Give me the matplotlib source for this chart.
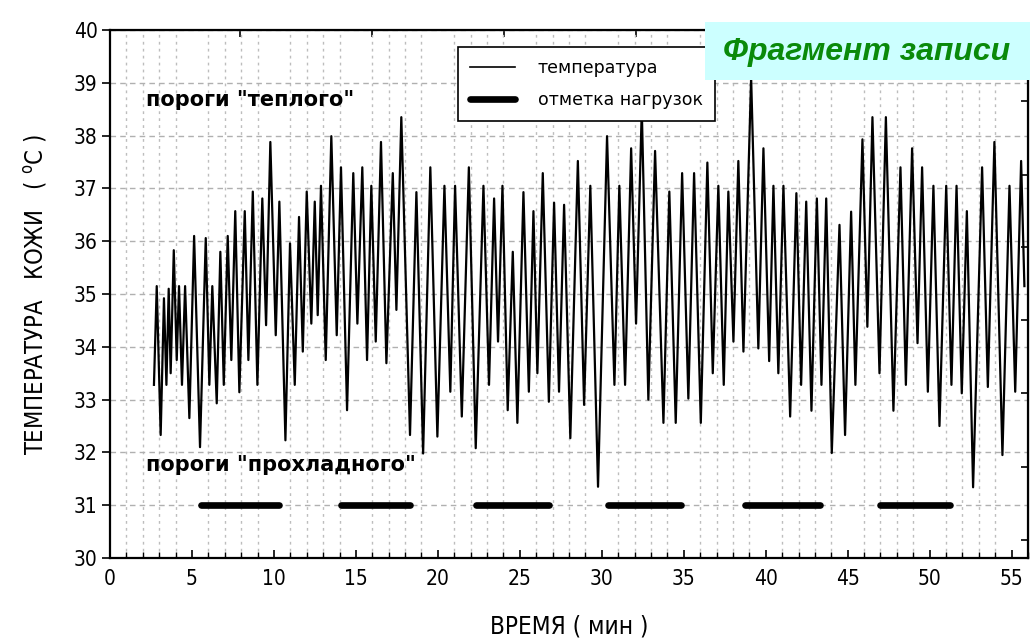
import numpy as np
import matplotlib
matplotlib.use("Agg")
import matplotlib.pyplot as plt
from matplotlib.patches import Rectangle
from matplotlib.lines import Line2D

plt.rcParams['font.family'] = ['Liberation Sans', 'DejaVu Sans']

# skin temperature record, time in minutes
t_min = [2.68, 2.85, 3.09, 3.29, 3.44, 3.58, 3.70, 3.89, 4.07, 4.21,
         4.39, 4.58, 4.84, 5.13, 5.49, 5.84, 6.06, 6.24, 6.51, 6.73,
         6.94, 7.18, 7.40, 7.64, 7.89, 8.22, 8.44, 8.71, 8.99, 9.29,
         9.52, 9.78, 10.11, 10.33, 10.70, 10.98, 11.27, 11.53, 11.76, 12.00,
         12.28, 12.49, 12.67, 12.87, 13.16, 13.50, 13.83, 14.09, 14.46, 14.84,
         15.09, 15.39, 15.68, 15.94, 16.21, 16.53, 16.86, 17.25, 17.47, 17.77,
         18.30, 18.69, 19.10, 19.54, 19.97, 20.40, 20.76, 21.05, 21.46, 21.89,
         22.31, 22.78, 23.12, 23.43, 23.67, 23.94, 24.26, 24.57, 24.85, 25.22,
         25.55, 25.83, 26.07, 26.40, 26.77, 27.09, 27.39, 27.70, 28.08, 28.54,
         28.92, 29.30, 29.77, 30.32, 30.77, 31.07, 31.42, 31.79, 32.09, 32.44,
         32.84, 33.25, 33.76, 34.12, 34.51, 34.90, 35.28, 35.63, 36.04, 36.44,
         36.77, 37.11, 37.44, 37.72, 38.03, 38.33, 38.64, 39.11, 39.55, 39.86,
         40.21, 40.47, 40.77, 41.08, 41.49, 41.87, 42.16, 42.47, 42.79, 43.12,
         43.40, 43.69, 44.03, 44.50, 44.84, 45.21, 45.47, 45.90, 46.20, 46.51,
         46.94, 47.33, 47.79, 48.22, 48.55, 48.93, 49.26, 49.54, 49.89, 50.23,
         50.60, 51.01, 51.33, 51.64, 51.96, 52.27, 52.65, 53.20, 53.55, 53.95,
         54.44, 54.87, 55.22, 55.58, 55.78]
temp_c = [33.28, 35.15, 32.33, 34.92, 33.28, 35.10, 33.50, 35.83, 33.75, 35.15,
          33.28, 35.15, 32.65, 36.10, 32.10, 36.06, 33.28, 35.15, 32.93, 35.80,
          33.28, 36.10, 33.75, 36.57, 33.14, 36.57, 33.75, 36.94, 33.28, 36.81,
          34.41, 37.88, 34.22, 36.75, 32.23, 35.96, 33.28, 36.46, 33.91, 36.94,
          34.44, 36.75, 34.60, 37.05, 33.75, 37.99, 34.22, 37.40, 32.80, 37.29,
          34.44, 37.40, 33.75, 37.05, 34.10, 37.88, 33.69, 37.29, 34.70, 38.35,
          32.33, 36.93, 31.98, 37.40, 32.30, 37.05, 33.15, 37.05, 32.68, 37.40,
          32.08, 37.05, 33.28, 36.81, 34.10, 37.05, 32.80, 35.80, 32.56, 36.93,
          33.15, 36.57, 33.50, 37.29, 32.96, 36.73, 33.15, 36.69, 32.27, 37.52,
          32.90, 37.05, 31.35, 37.99, 33.28, 37.05, 33.28, 37.76, 34.44, 38.50,
          33.00, 37.71, 32.56, 36.94, 32.56, 37.29, 33.02, 37.29, 32.56, 37.49,
          33.50, 37.05, 33.28, 36.94, 34.10, 37.52, 33.91, 39.10, 33.97, 37.76,
          33.73, 37.05, 33.50, 37.05, 32.68, 36.91, 33.28, 36.75, 32.79, 36.81,
          33.28, 36.81, 31.99, 36.31, 32.33, 36.56, 33.28, 37.93, 34.38, 38.35,
          33.50, 38.35, 32.79, 37.40, 33.28, 37.76, 34.07, 37.40, 33.15, 37.05,
          32.50, 37.05, 33.28, 37.05, 33.12, 36.57, 31.34, 37.40, 33.24, 37.88,
          31.95, 37.05, 33.15, 37.52, 35.15]

# load periods (start, end), minutes
load_start = [5.55, 14.11, 22.35, 30.38, 38.72, 47.00]
load_end = [10.31, 18.29, 26.77, 34.84, 43.34, 51.27]
load_level = 31.0

x_ticks = list(range(0, 56, 5))
y_ticks = list(range(30, 41))
top_ticks = [7.93, 15.99, 24.04, 32.09, 40.21, 48.26]
right_ticks = [30.34, 31.73, 33.12, 34.50, 35.90, 37.25, 38.66]

fig = plt.figure(figsize=(10.34, 6.42), dpi=100)
ax = fig.add_axes([0.1064, 0.1308, 0.8878, 0.8224])

ax.plot(t_min, temp_c, color='black', lw=1.6, zorder=3)
for s, e in zip(load_start, load_end):
    ax.plot([s, e], [load_level, load_level], color='black', lw=4.8,
            solid_capstyle='round', zorder=3)

ax.set_xlim(0, 56)
ax.set_ylim(30, 40)
ax.set_xticks(x_ticks)
ax.set_xticks(np.arange(0, 57, 1), minor=True)
ax.set_yticks(y_ticks)

ax.grid(True, axis='y', which='major', color='#b0b0b0', lw=1.0,
        linestyle=(0, (4, 3)))
ax.grid(True, axis='x', which='minor', color='#bdbdbd', lw=1.0,
        linestyle=(0, (2, 3)))
ax.set_axisbelow(True)

# narrow face for axis numbers and titles
narrow = dict(family=['DejaVu Sans', 'Liberation Sans'], stretch='condensed')
ax.tick_params(axis='x', which='major', direction='in', length=6, width=1.2,
               labelsize=15, pad=8)
ax.tick_params(axis='x', which='minor', direction='in', length=4, width=1.0)
ax.tick_params(axis='y', which='major', direction='out', length=6, width=1.2,
               labelsize=15, pad=3)
for lab in ax.get_xticklabels() + ax.get_yticklabels():
    lab.set_family(narrow['family'])
    lab.set_stretch(narrow['stretch'])

for sp in ax.spines.values():
    sp.set_linewidth(1.6)

# independent tick marks on the top and right frame
top = ax.secondary_xaxis('top')
top.set_xticks(top_ticks)
top.tick_params(direction='in', length=5, width=1.2, labeltop=False)
right = ax.secondary_yaxis('right')
right.set_yticks(right_ticks)
right.tick_params(direction='in', length=5, width=1.2, labelright=False)

ax.set_xlabel('ВРЕМЯ ( мин )', fontsize=17.5, labelpad=18, **narrow)
ax.set_ylabel('ТЕМПЕРАТУРА   КОЖИ   ( $\\mathregular{^oC}$ )', fontsize=17,
              **narrow)
ax.yaxis.set_label_coords(-0.066, 0.5)

ax.text(2.2, 38.67, 'пороги "теплого"', fontsize=15, fontweight='bold',
        family='DejaVu Sans', va='center', ha='left', zorder=4)
ax.text(2.2, 31.76, 'пороги "прохладного"', fontsize=15, fontweight='bold',
        family='DejaVu Sans', va='center', ha='left', zorder=4)

handles = [Line2D([], [], color='black', lw=1.2),
           Line2D([], [], color='black', lw=4.8, solid_capstyle='round')]
leg = ax.legend(handles, ['температура', 'отметка нагрузок'],
                loc='upper left', bbox_to_anchor=(0.379, 0.968),
                borderaxespad=0, prop={'family': 'DejaVu Sans', 'size': 12.5},
                frameon=True, fancybox=False, framealpha=1,
                edgecolor='black', handlelength=2.6, borderpad=0.7,
                labelspacing=0.8, handletextpad=1.3)
leg.get_frame().set_linewidth(1.2)
leg.set_zorder(6)

# caption box in the upper right corner
fig.patches.append(Rectangle((705 / 1034, 1 - 80 / 642), 325 / 1034, 58 / 642,
                             transform=fig.transFigure, facecolor='#ccffff',
                             edgecolor='none', zorder=5))
fig.text(867 / 1034, 1 - 52 / 642, 'Фрагмент записи', fontsize=23,
         fontweight='bold', fontstyle='italic', color='#0a8a0a',
         ha='center', va='center', zorder=6)

fig.savefig('out.png', dpi=100)
